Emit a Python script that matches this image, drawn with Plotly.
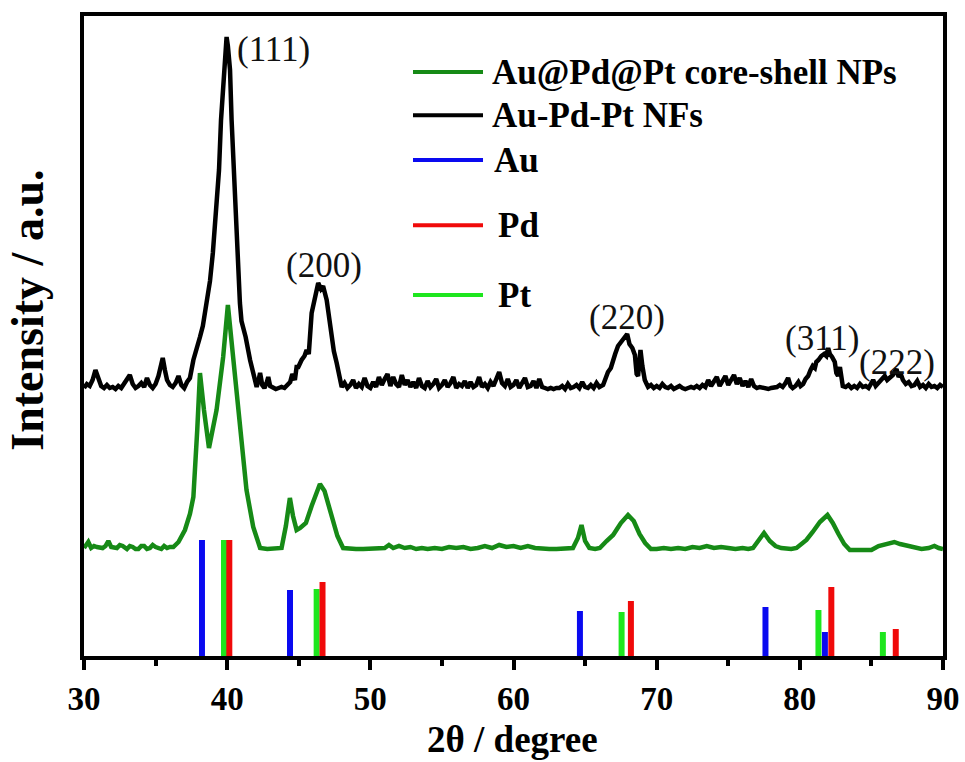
import plotly.graph_objects as go

# ---- Au-Pd-Pt NFs (black) trace: (2theta, intensity a.u. incl. offset) ----
nfs_points = [
    (30.0, 268), (30.2, 272), (30.4, 270), (30.6, 276), (30.8, 286), (31.0, 279), (31.2, 270), (31.4, 268), (31.6, 271),
    (31.8, 268), (32.0, 269), (32.2, 267), (32.4, 270), (32.6, 268), (32.8, 272), (33.0, 276), (33.2, 281), (33.4, 272),
    (33.6, 268), (33.8, 270), (34.0, 273), (34.2, 269), (34.4, 278), (34.6, 271), (34.8, 268), (35.0, 272), (35.2, 280),
    (35.4, 292), (35.5, 298), (35.65, 286), (35.8, 276), (36.0, 271), (36.2, 269), (36.4, 273), (36.6, 280), (36.8, 271),
    (37.0, 268), (37.2, 274), (37.4, 278), (37.64, 296), (37.85, 305), (38.1, 319), (38.3, 330), (38.57, 353), (38.8, 375),
    (39.0, 403), (39.2, 440), (39.43, 486), (39.57, 536), (39.78, 586), (39.96, 619), (40.05, 610), (40.2, 586), (40.31, 536),
    (40.47, 486), (40.68, 403), (40.89, 353), (41.0, 335), (41.29, 319), (41.6, 296), (41.85, 280), (42.06, 269), (42.2, 276),
    (42.3, 283), (42.45, 271), (42.6, 268), (42.75, 273), (42.87, 279), (43.0, 270), (43.2, 268), (43.4, 267), (43.6, 268),
    (43.8, 269), (44.0, 268), (44.2, 271), (44.4, 274), (44.55, 282), (44.73, 276), (44.85, 289), (44.97, 289), (45.2, 296),
    (45.4, 300), (45.55, 306), (45.7, 302), (45.9, 343), (46.1, 358), (46.36, 373), (46.55, 367), (46.7, 370), (46.95, 356),
    (47.1, 340), (47.3, 326), (47.45, 305), (47.65, 293), (47.88, 276), (48.0, 269), (48.2, 273), (48.4, 268), (48.6, 271),
    (48.8, 276), (49.0, 268), (49.2, 272), (49.4, 269), (49.6, 278), (49.8, 270), (50.0, 268), (50.2, 274), (50.4, 269),
    (50.6, 279), (50.8, 271), (51.0, 277), (51.2, 282), (51.4, 270), (51.6, 279), (51.8, 272), (52.0, 269), (52.2, 281),
    (52.4, 271), (52.6, 276), (52.8, 269), (53.0, 274), (53.2, 268), (53.4, 278), (53.6, 270), (53.8, 268), (54.0, 275),
    (54.2, 269), (54.4, 272), (54.6, 277), (54.8, 268), (55.0, 271), (55.2, 276), (55.4, 269), (55.6, 273), (55.8, 279),
    (56.0, 268), (56.2, 272), (56.4, 270), (56.6, 275), (56.8, 268), (57.0, 274), (57.2, 269), (57.4, 271), (57.6, 279),
    (57.8, 269), (58.0, 272), (58.2, 268), (58.4, 274), (58.6, 270), (58.8, 277), (59.0, 284), (59.2, 273), (59.4, 270),
    (59.6, 277), (59.8, 269), (60.0, 271), (60.2, 276), (60.4, 268), (60.6, 273), (60.8, 278), (61.0, 269), (61.2, 270),
    (61.4, 275), (61.6, 268), (61.8, 277), (62.0, 269), (62.2, 268), (62.4, 267), (62.6, 268), (62.8, 267), (63.0, 268),
    (63.2, 268), (63.4, 270), (63.6, 267), (63.8, 272), (64.0, 268), (64.2, 269), (64.4, 271), (64.6, 268), (64.8, 274),
    (65.0, 269), (65.2, 268), (65.4, 271), (65.6, 268), (65.8, 273), (66.0, 269), (66.26, 271), (66.45, 278), (66.6, 284),
    (66.8, 288), (66.95, 296), (67.1, 302), (67.3, 310), (67.5, 314), (67.7, 318), (67.94, 322), (68.1, 312), (68.3, 308),
    (68.48, 301), (68.6, 282), (68.7, 280), (68.87, 306), (69.0, 290), (69.17, 276), (69.3, 272), (69.4, 269), (69.6, 271),
    (69.8, 268), (70.0, 270), (70.2, 268), (70.4, 272), (70.6, 269), (70.8, 268), (71.0, 270), (71.2, 267), (71.4, 268),
    (71.6, 270), (71.8, 268), (72.0, 267), (72.2, 268), (72.4, 269), (72.6, 268), (72.8, 270), (73.0, 268), (73.2, 271),
    (73.4, 269), (73.6, 276), (73.8, 270), (74.0, 274), (74.2, 279), (74.4, 270), (74.6, 276), (74.8, 280), (75.0, 271),
    (75.2, 277), (75.4, 281), (75.6, 272), (75.8, 278), (76.0, 270), (76.2, 275), (76.4, 269), (76.6, 277), (76.8, 270),
    (77.0, 268), (77.2, 269), (77.4, 268), (77.6, 268), (77.8, 267), (78.0, 268), (78.2, 268), (78.4, 269), (78.6, 271),
    (78.8, 269), (79.0, 273), (79.18, 278), (79.35, 270), (79.5, 268), (79.7, 270), (79.9, 274), (80.05, 270), (80.23, 272),
    (80.4, 277), (80.58, 280), (80.75, 286), (80.9, 290), (81.05, 288), (81.15, 294), (81.3, 296), (81.5, 300), (81.7, 302),
    (81.85, 300), (81.98, 308), (82.1, 302), (82.25, 299), (82.44, 294), (82.55, 283), (82.67, 280), (82.8, 289), (82.9, 278),
    (83.0, 270), (83.2, 269), (83.4, 271), (83.6, 268), (83.8, 270), (84.0, 268), (84.2, 272), (84.4, 269), (84.6, 270),
    (84.8, 268), (85.0, 273), (85.12, 276), (85.3, 270), (85.5, 273), (85.7, 277), (85.93, 280), (86.1, 276), (86.3, 279),
    (86.5, 281), (86.75, 287), (86.9, 279), (87.05, 282), (87.2, 276), (87.4, 272), (87.6, 274), (87.8, 270), (88.0, 271),
    (88.2, 275), (88.4, 269), (88.6, 271), (88.8, 268), (89.0, 272), (89.2, 269), (89.4, 270), (89.6, 268), (89.8, 271),
    (90.0, 269),
]

# ---- Au@Pd@Pt core-shell NPs (green) trace ----
nps_points = [
    (30.0, 108), (30.15, 112), (30.3, 114), (30.5, 108), (30.7, 110), (30.9, 109), (31.1, 108), (31.3, 108), (31.5, 110),
    (31.7, 115), (31.9, 109), (32.1, 108), (32.3, 108), (32.5, 111), (32.7, 110), (33.0, 107), (33.2, 110), (33.4, 109),
    (33.6, 107), (33.8, 107), (34.0, 110), (34.2, 110), (34.4, 107), (34.6, 108), (34.8, 111), (35.0, 109), (35.2, 108),
    (35.4, 107), (35.6, 110), (35.8, 108), (36.0, 109), (36.24, 109), (36.6, 114), (37.05, 126), (37.4, 142), (37.64, 159),
    (37.91, 226), (38.1, 283), (38.38, 246), (38.73, 208), (39.26, 246), (39.72, 299), (40.05, 351), (40.5, 290), (41.0, 219),
    (41.35, 166), (41.82, 129), (42.3, 108), (42.8, 107), (43.3, 108), (43.8, 108), (44.1, 130), (44.38, 158), (44.6, 140),
    (44.85, 126), (45.1, 128), (45.5, 133), (45.9, 150), (46.2, 162), (46.48, 172), (46.8, 165), (47.1, 150), (47.4, 139),
    (47.7, 120), (48.1, 108), (48.6, 107), (49.0, 107), (49.5, 107), (50.0, 107), (50.5, 107), (51.0, 108), (51.3, 111),
    (51.6, 108), (52.0, 110), (52.4, 108), (52.8, 109), (53.2, 107), (53.6, 108), (54.0, 107), (54.5, 108), (55.0, 107),
    (55.5, 109), (56.0, 108), (56.5, 109), (57.0, 107), (57.5, 108), (58.0, 110), (58.5, 108), (59.0, 111), (59.5, 109),
    (60.0, 110), (60.5, 108), (61.0, 110), (61.5, 108), (62.0, 107), (62.5, 107), (63.0, 107), (63.5, 107), (64.15, 108),
    (64.5, 118), (64.75, 131), (65.0, 115), (65.3, 108), (65.7, 107), (66.03, 108), (66.5, 115), (66.96, 121), (67.5, 133),
    (68.0, 141), (68.4, 135), (68.8, 122), (69.2, 113), (69.6, 107), (70.0, 107), (70.5, 108), (71.0, 107), (71.5, 108),
    (72.0, 107), (72.5, 109), (73.0, 108), (73.5, 110), (74.0, 108), (74.5, 109), (75.0, 108), (75.5, 107), (76.0, 108),
    (76.4, 107), (76.73, 108), (77.1, 115), (77.5, 123), (77.9, 115), (78.3, 110), (78.7, 108), (79.07, 107), (79.4, 107),
    (79.77, 108), (80.1, 112), (80.46, 116), (80.9, 124), (81.4, 134), (81.93, 141), (82.3, 133), (82.7, 122), (83.1, 112),
    (83.49, 106), (84.0, 106), (84.5, 107), (85.0, 106), (85.5, 110), (86.0, 112), (86.6, 114), (87.0, 112), (87.5, 110),
    (88.0, 108), (88.5, 107), (89.0, 108), (89.4, 110), (89.7, 108), (90.0, 107),
]

# ---- reference patterns (stick positions and relative heights) ----
au_pos = [38.24, 44.39, 64.64, 77.6, 81.75]
au_int = [116, 66, 45, 49, 24]
pd_pos = [40.15, 46.66, 68.2, 82.2, 86.7]
pd_int = [116, 74, 55, 69, 27]
pt_pos = [39.78, 46.25, 67.55, 81.3, 85.8]
pt_int = [116, 67, 44, 46, 24]

# ---- peak labels ----
hkl_labels = ["(111)", "(200)", "(220)", "(311)", "(222)"]
hkl_x = [43.27, 46.73, 67.9, 81.6, 86.77]
hkl_y = [607, 391, 339, 318, 294]

x_ticks = [30, 40, 50, 60, 70, 80, 90]
legend_names = ["Au@Pd@Pt core-shell NPs", "Au-Pd-Pt NFs", "Au", "Pd", "Pt"]

nfs_x = [p[0] for p in nfs_points]
nfs_y = [p[1] for p in nfs_points]
nps_x = [p[0] for p in nps_points]
nps_y = [p[1] for p in nps_points]

C_NPS = "#168a16"
C_NFS = "#000000"
C_AU = "#0a0af0"
C_PD = "#f00a0a"
C_PT = "#1ee61e"

def sticks(pos, inten):
    xs, ys = [], []
    for p, h in zip(pos, inten):
        xs += [p, p, None]
        ys += [0, h, None]
    return xs, ys

fig = go.Figure()
fig.add_trace(go.Scatter(x=nps_x, y=nps_y, mode="lines", line=dict(color=C_NPS, width=4.5),
                         name=legend_names[0], showlegend=False))
fig.add_trace(go.Scatter(x=nfs_x, y=nfs_y, mode="lines", line=dict(color=C_NFS, width=4.5),
                         name=legend_names[1], showlegend=False))
for pos, inten, col, nm in [(au_pos, au_int, C_AU, legend_names[2]),
                            (pt_pos, pt_int, C_PT, legend_names[4]),
                            (pd_pos, pd_int, C_PD, legend_names[3])]:
    sx, sy = sticks(pos, inten)
    fig.add_trace(go.Scatter(x=sx, y=sy, mode="lines", line=dict(color=col, width=6),
                             name=nm, showlegend=False))

SERIF = "Liberation Serif, Times New Roman, serif"

annotations = []
for t, x, y in zip(hkl_labels, hkl_x, hkl_y):
    annotations.append(dict(x=x, y=y, xref="x", yref="y", text=t, showarrow=False,
                            font=dict(family=SERIF, size=35, color="#111")))

# legend drawn by hand to match the irregular spacing of the original
leg_y = [0.9125, 0.845, 0.775, 0.673, 0.564]
leg_col = [C_NPS, C_NFS, C_AU, C_PD, C_PT]
leg_tx = [0.4725, 0.4725, 0.4755, 0.4795, 0.4795]
shapes = []
for nm, yy, col, tx in zip(legend_names, leg_y, leg_col, leg_tx):
    shapes.append(dict(type="line", xref="paper", yref="paper", x0=0.383, x1=0.4645, y0=yy, y1=yy,
                       line=dict(color=col, width=4)))
    annotations.append(dict(x=tx, y=yy, xref="paper", yref="paper", text="<b>%s</b>" % nm,
                            showarrow=False, xanchor="left", yanchor="middle",
                            font=dict(family=SERIF, size=35, color="#000")))

annotations.append(dict(x=0.4994, y=-0.1297, xref="paper", yref="paper", text="<b>2θ / degree</b>",
                        showarrow=False, xanchor="center", yanchor="middle",
                        font=dict(family=SERIF, size=37, color="#000")))
annotations.append(dict(x=-0.066, y=0.54, xref="paper", yref="paper", text="<b>Intensity / a.u.</b>",
                        showarrow=False, textangle=-90, xanchor="center", yanchor="middle",
                        font=dict(family=SERIF, size=46, color="#000")))

fig.update_layout(
    width=965, height=762,
    margin=dict(l=84, r=22, t=16, b=106, autoexpand=False),
    plot_bgcolor="white", paper_bgcolor="white",
    showlegend=False,
    annotations=annotations,
    shapes=shapes,
    xaxis=dict(range=[30, 90], tickmode="array", tickvals=x_ticks,
               ticktext=["<b>%d</b>" % v for v in x_ticks],
               ticks="outside", ticklen=10, tickwidth=4, tickcolor="black",
               minor=dict(tickvals=[35, 45, 55, 65, 75, 85], ticks="outside", ticklen=6, tickwidth=4, tickcolor="black"),
               showline=True, linecolor="black", linewidth=4, mirror=True, automargin=False,
               showgrid=False, zeroline=False,
               tickfont=dict(family=SERIF, size=33, color="black")),
    yaxis=dict(range=[0, 640], showticklabels=False, ticks="", automargin=False,
               showline=True, linecolor="black", linewidth=4, mirror=True,
               showgrid=False, zeroline=False),
)

fig.write_html("out.html")
